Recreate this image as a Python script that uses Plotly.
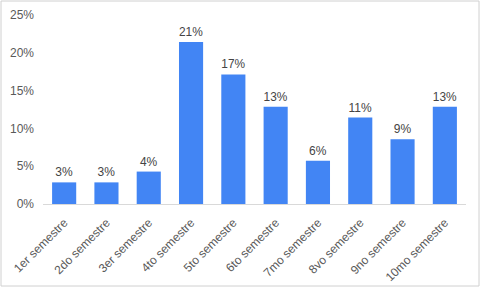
import plotly.graph_objects as go

categories = ["1er semestre", "2do semestre", "3er semestre", "4to semestre", "5to semestre",
              "6to semestre", "7mo semestre", "8vo semestre", "9no semestre", "10mo semestre"]
values = [0.0286, 0.0286, 0.0429, 0.2143, 0.1714, 0.1286, 0.0571, 0.1143, 0.0857, 0.1286]
y_ticks = [0, 0.05, 0.10, 0.15, 0.20, 0.25]

labels = [f"{round(v * 100):d}%" for v in values]

fig = go.Figure(go.Bar(
    x=categories, y=values,
    marker=dict(color="#4285f4", line=dict(width=0)),
    text=labels, textposition="outside", cliponaxis=False,
    textfont=dict(family="Liberation Sans, Arial, sans-serif", size=12, color="#444444"),
))

fig.update_layout(
    width=481, height=289,
    margin=dict(l=43, r=15, t=15, b=85, autoexpand=False),
    paper_bgcolor="white", plot_bgcolor="white",
    bargap=0.43, showlegend=False,
    font=dict(family="Liberation Sans, Arial, sans-serif", size=12, color="#595959"),
    xaxis=dict(tickangle=-45, showgrid=False, showline=True, linecolor="#d9d9d9",
               linewidth=1, ticks="", ticklabelstandoff=6, automargin=False,
               tickfont=dict(size=12, color="#595959")),
    yaxis=dict(range=[0, 0.25], tickvals=y_ticks, tickformat=".0%", showgrid=False,
               zeroline=False, showline=False, ticks="", ticklabelstandoff=8,
               automargin=False, tickfont=dict(size=12, color="#595959")),
    shapes=[dict(type="rect", xref="paper", yref="paper", x0=-42/423, x1=1 + 13/423,
                 y0=-82/189, y1=1 + 14/189, line=dict(color="#d0d0d0", width=1))],
)

fig.write_html("out.html")
